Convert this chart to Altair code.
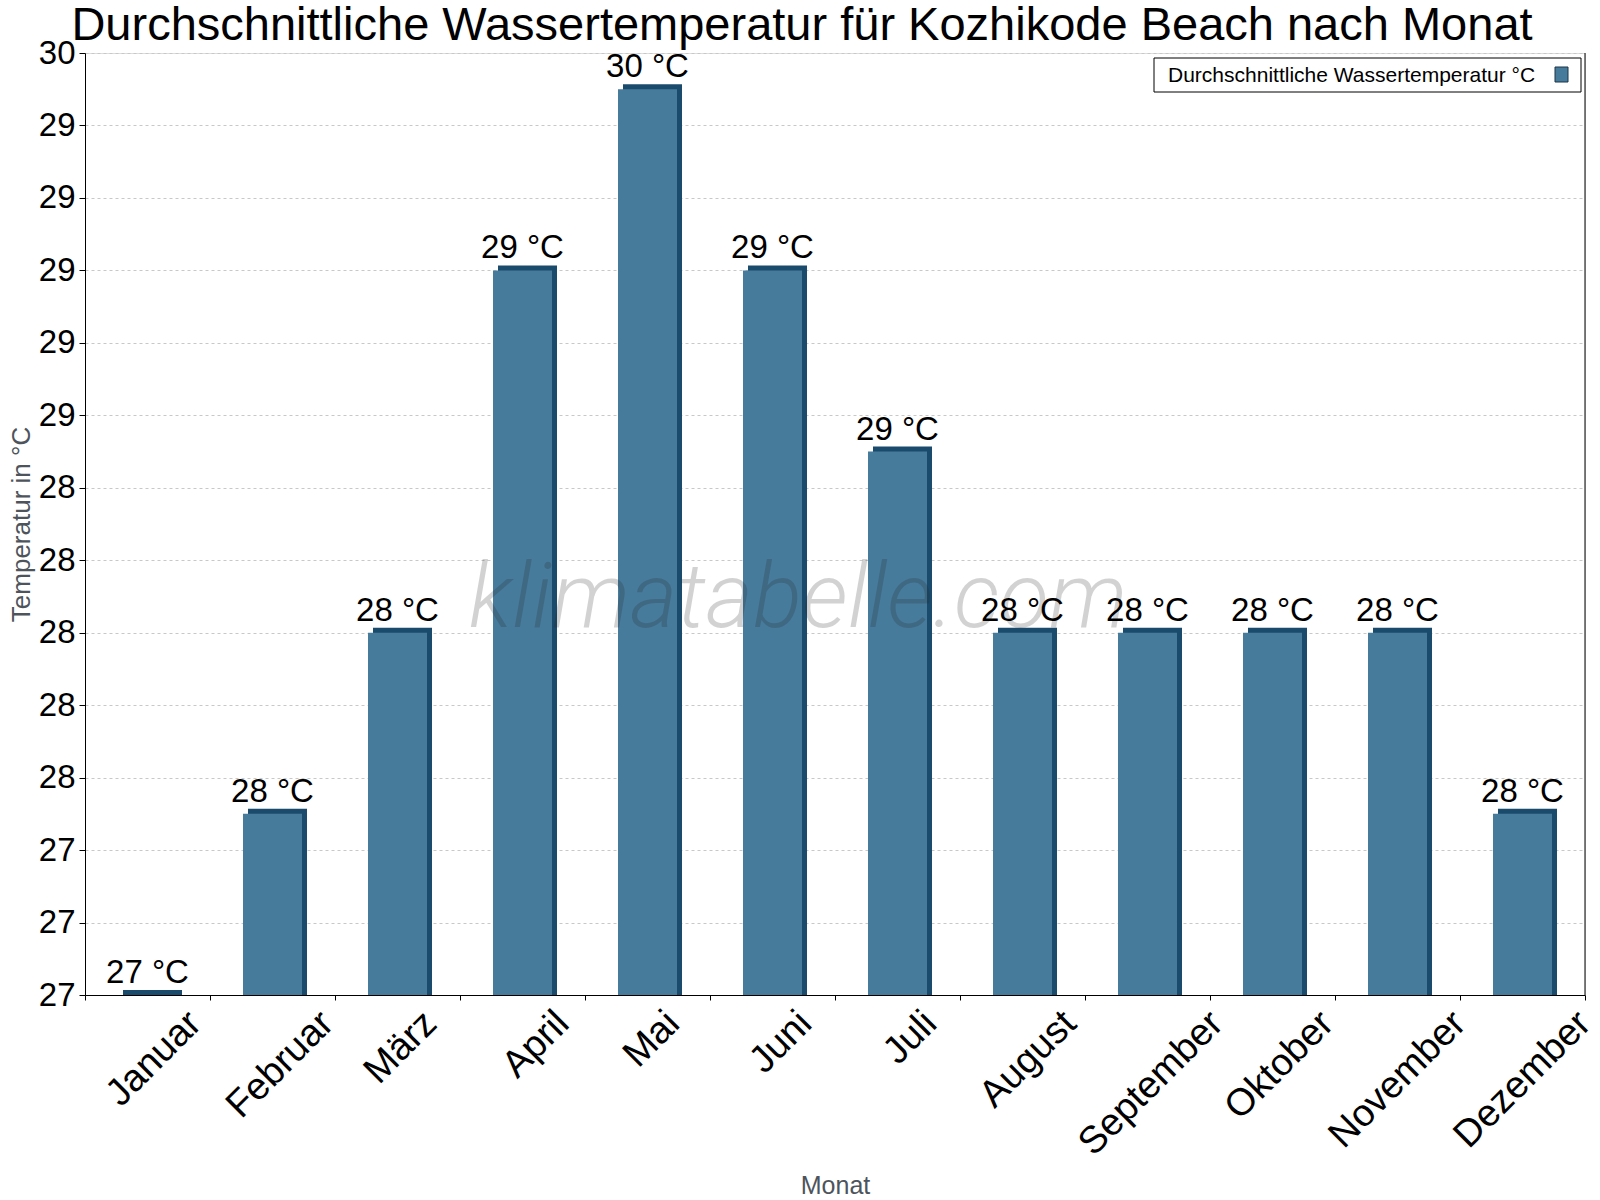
import altair as alt
import pandas as pd

# Monthly average water temperature, Kozhikode Beach (°C)
months = ["Januar", "Februar", "März", "April", "Mai", "Juni",
          "Juli", "August", "September", "Oktober", "November", "Dezember"]
water_temp = [27.0, 27.5, 28.0, 29.0, 29.5, 29.0, 28.5, 28.0, 28.0, 28.0, 28.0, 27.5]

# y axis range and tick positions (labels are rounded to whole degrees)
y_domain = [27.0, 29.6]
y_tick_values = [27.0, 27.2, 27.4, 27.6, 27.8, 28.0, 28.2, 28.4, 28.6, 28.8, 29.0, 29.2, 29.4, 29.6]

title_text = "Durchschnittliche Wassertemperatur für Kozhikode Beach nach Monat"
legend_label = "Durchschnittliche Wassertemperatur °C"
watermark_text = "klimatabelle.com"
x_title = "Monat"
y_title = "Temperatur in °C"

FRONT = "#477b9c"
SIDE = "#1b4b6c"
FONT = "Liberation Sans"
TITLE_GREY = "#4d545c"

W, H = 1500, 942
BAR_W = 59
DEPTH = 5

df = pd.DataFrame({"Monat": months, "Temp": water_temp})
base = alt.Chart(df)

x_enc = alt.X(
    "Monat:N",
    sort=months,
    scale=alt.Scale(paddingInner=0, paddingOuter=0),
    axis=alt.Axis(
        title=x_title,
        labelAngle=-45,
        labelAlign="right",
        labelBaseline="top",
        labelFontSize=38,
        labelFont=FONT,
        labelColor="black",
        labelLimit=0,
        # shift each rotated label so that its box is centred under the bar
        labelOffset=alt.ExprRef("0.354*(20.5*length(datum.label)-27)"),
        labelPadding=4,
        tickSize=5,
        tickBand="extent",
        tickColor="black",
        domainColor="black",
        grid=False,
        titleFontSize=25,
        titleFont=FONT,
        titleColor=TITLE_GREY,
        titleFontWeight="normal",
        titleX=W / 2,
        titleY=198,
        titleAlign="center",
        titleBaseline="alphabetic",
    ),
)

y_enc = alt.Y(
    "Temp:Q",
    scale=alt.Scale(domain=y_domain, nice=False, zero=False),
    axis=alt.Axis(
        values=y_tick_values,
        format=".0f",
        labelFontSize=33,
        labelFont=FONT,
        labelColor="black",
        labelPadding=4,
        tickSize=6,
        tickColor="black",
        domainColor="black",
        gridColor="#c8c8c8",
        gridDash=[3, 3],
        title=y_title,
        titleFontSize=26,
        titleFont=FONT,
        titleColor=TITLE_GREY,
        titleFontWeight="normal",
        titleX=-64,
        titleY=H / 2,
        titleAngle=-90,
        titleAlign="center",
        titleBaseline="middle",
    ),
)

# dark extrusion behind each bar (right side and top face)
side = base.mark_bar(color=SIDE, width=BAR_W, xOffset=DEPTH, yOffset=-DEPTH, y2Offset=0).encode(
    x=x_enc, y=y_enc, y2=alt.datum(y_domain[0])
)
front = base.mark_bar(color=FRONT, width=BAR_W).encode(
    x=x_enc, y=y_enc, y2=alt.datum(y_domain[0])
)

value_labels = base.transform_calculate(
    lbl="format(datum.Temp, '.0f') + ' °C'"
).mark_text(
    fontSize=33, font=FONT, color="black", baseline="alphabetic", dy=-12
).encode(x=x_enc, y=y_enc, text="lbl:N")

watermark = alt.Chart(pd.DataFrame({"w": [watermark_text]})).mark_text(
    font="Roboto", fontStyle="italic", fontWeight=300, fontSize=91,
    color="#222222", opacity=0.2, align="center", baseline="alphabetic"
).encode(x=alt.value(713), y=alt.value(574), text="w:N")

one = pd.DataFrame({"k": [0]})
right_border = alt.Chart(one).mark_rule(color="black", strokeWidth=1).encode(
    x=alt.value(W), y=alt.value(0), y2=alt.value(H)
)

# chart heading, centred on the page
heading = alt.Chart(pd.DataFrame({"t": [title_text]})).mark_text(
    fontSize=47, font=FONT, color="black", align="center", baseline="alphabetic"
).encode(x=alt.value(717), y=alt.value(-13), text="t:N")

# legend box, top right
legend_box = alt.Chart(one).mark_rect(fill="white", stroke="black", strokeWidth=1).encode(
    x=alt.value(1069), x2=alt.value(1496), y=alt.value(5), y2=alt.value(39)
)
legend_text = alt.Chart(pd.DataFrame({"t": [legend_label]})).mark_text(
    fontSize=21, font=FONT, color="black", align="left", baseline="alphabetic"
).encode(x=alt.value(1083), y=alt.value(29), text="t:N")
legend_swatch = alt.Chart(one).mark_rect(fill=FRONT, stroke="#1d3447", strokeWidth=1).encode(
    x=alt.value(1470), x2=alt.value(1483), y=alt.value(14), y2=alt.value(29)
)

chart = alt.layer(
    side, front, watermark, value_labels, right_border,
    legend_box, legend_text, legend_swatch, heading,
).properties(
    width=W,
    height=H,
    autosize="none",
    padding={"left": 85, "top": 53, "right": 15, "bottom": 205},
).configure_view(stroke=None).configure(background="white")

chart.save("out.html", embed_options={"renderer": "svg", "actions": False})
